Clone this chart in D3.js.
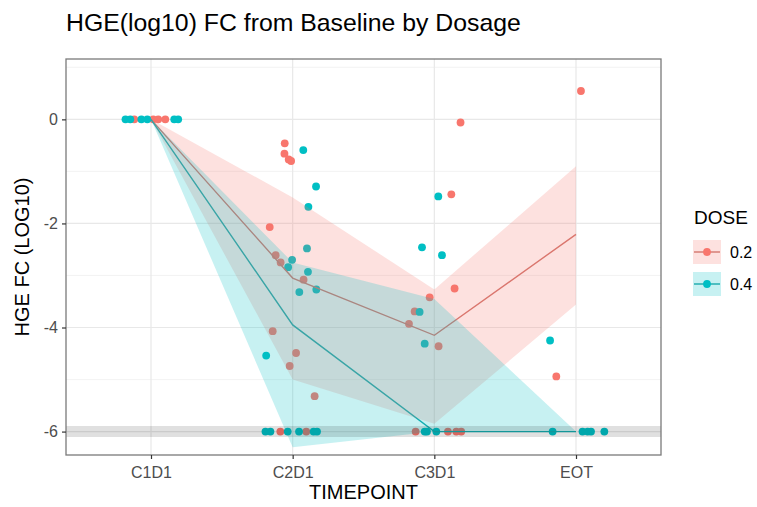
<!DOCTYPE html>
<html><head><meta charset="utf-8">
<script src="https://cdn.jsdelivr.net/npm/d3@7"></script>
<style>
body{margin:0;background:#fff}
svg{display:block}
text{font-family:"Liberation Sans",Arial,Helvetica,sans-serif}
</style>
</head><body>
<svg id="chart" width="757" height="507"></svg>
<script>
// ---------- data ----------
const timepoints = ["C1D1", "C2D1", "C3D1", "EOT"];
const doses = ["0.2", "0.4"];
const yTicks = [0, -2, -4, -6];
const yMinorTicks = [1, -1, -3, -5];
const floorValue = -6;

// summary line per dose
const lineDose02 = [0, -3.05, -4.15, -2.21];
const lineDose04 = [0, -3.95, -6.0, -6.0];
// ribbon bounds per dose
const lowerDose02 = [0, -5.0, -5.85, -3.56];
const upperDose02 = [0, -1.5, -3.27, -0.9];
const lowerDose04 = [0, -6.3, -6.0, -6.0];
const upperDose04 = [0, -2.75, -3.45, -6.0];

// individual observations: [timepoint, value, jitter (fraction of category step)]
const pointsDose02 = [
  ["C1D1", 0, -0.118], ["C1D1", 0, 0.016], ["C1D1", 0, 0.051], ["C1D1", 0, 0.101],
  ["C2D1", -0.46, -0.056], ["C2D1", -0.66, -0.058], ["C2D1", -0.77, -0.028], ["C2D1", -0.80, -0.011],
  ["C2D1", -2.07, -0.162], ["C2D1", -2.61, -0.12], ["C2D1", -2.75, -0.085], ["C2D1", -3.08, 0.077],
  ["C2D1", -4.07, -0.141], ["C2D1", -4.49, 0.024], ["C2D1", -4.74, -0.021], ["C2D1", -5.32, 0.155],
  ["C2D1", -6, -0.087], ["C2D1", -6, 0.096],
  ["C3D1", -0.06, 0.185], ["C3D1", -1.44, 0.12], ["C3D1", -3.25, 0.143], ["C3D1", -3.42, -0.033],
  ["C3D1", -3.69, -0.139], ["C3D1", -3.93, -0.179], ["C3D1", -4.36, 0.03],
  ["C3D1", -6, -0.132], ["C3D1", -6, 0.096], ["C3D1", -6, 0.155], ["C3D1", -6, 0.19],
  ["EOT", 0.545, 0.035], ["EOT", -4.94, -0.139]
];
const pointsDose04 = [
  ["C1D1", 0, -0.18], ["C1D1", 0, -0.146], ["C1D1", 0, -0.068], ["C1D1", 0, -0.026], ["C1D1", 0, 0.164], ["C1D1", 0, 0.192],
  ["C2D1", -0.59, 0.075], ["C2D1", -1.29, 0.165], ["C2D1", -1.68, 0.111], ["C2D1", -2.48, 0.101],
  ["C2D1", -2.70, -0.004], ["C2D1", -2.84, -0.032], ["C2D1", -2.93, 0.108], ["C2D1", -3.32, 0.047],
  ["C2D1", -3.27, 0.167], ["C2D1", -4.54, -0.187],
  ["C2D1", -6, -0.192], ["C2D1", -6, -0.157], ["C2D1", -6, -0.035], ["C2D1", -6, 0.045], ["C2D1", -6, 0.148], ["C2D1", -6, 0.172],
  ["C3D1", -1.48, 0.028], ["C3D1", -2.46, -0.087], ["C3D1", -2.61, 0.054], ["C3D1", -3.70, -0.104], ["C3D1", -4.31, -0.068],
  ["C3D1", -6, -0.068], ["C3D1", -6, -0.052], ["C3D1", -6, 0.014],
  ["EOT", -4.25, -0.183], ["EOT", -6, -0.165], ["EOT", -6, 0.046], ["EOT", -6, 0.082], ["EOT", -6, 0.106], ["EOT", -6, 0.2]
];

const doseColors = ["#F8766D", "#00BFC4"];
const lineColors = ["#d3776f", "#1aa9ad"];

// ---------- layout ----------
const panel = {left: 66, right: 661, top: 59, bottom: 455};
const svg = d3.select("#chart");
svg.append("rect").attr("width", 757).attr("height", 507).attr("fill", "#fff");

const x = d3.scalePoint().domain(timepoints).range([panel.left, panel.right]).padding(0.6);
const y = d3.scaleLinear().domain([-6.45, 1.16]).range([panel.bottom, panel.top]);
const step = x.step();

const series = [
  {dose: doses[0], line: lineDose02, lo: lowerDose02, hi: upperDose02, pts: pointsDose02, color: doseColors[0], lc: lineColors[0]},
  {dose: doses[1], line: lineDose04, lo: lowerDose04, hi: upperDose04, pts: pointsDose04, color: doseColors[1], lc: lineColors[1]}
];

const g = svg.append("g");
svg.append("clipPath").attr("id", "pclip").append("rect")
  .attr("x", panel.left).attr("y", panel.top)
  .attr("width", panel.right - panel.left).attr("height", panel.bottom - panel.top);

const pg = g.append("g").attr("clip-path", "url(#pclip)");
pg.append("rect").attr("x", panel.left).attr("y", panel.top)
  .attr("width", panel.right - panel.left).attr("height", panel.bottom - panel.top).attr("fill", "#fff");

// grid
pg.selectAll(".gminor").data(yMinorTicks).enter().append("line")
  .attr("x1", panel.left).attr("x2", panel.right)
  .attr("y1", d => y(d)).attr("y2", d => y(d))
  .attr("stroke", "#f0f0f0").attr("stroke-width", 0.8);
pg.selectAll(".gmajor").data(yTicks).enter().append("line")
  .attr("x1", panel.left).attr("x2", panel.right)
  .attr("y1", d => y(d)).attr("y2", d => y(d))
  .attr("stroke", "#e8e8e8").attr("stroke-width", 1.2);
pg.selectAll(".gx").data(timepoints).enter().append("line")
  .attr("x1", d => x(d)).attr("x2", d => x(d))
  .attr("y1", panel.top).attr("y2", panel.bottom)
  .attr("stroke", "#e8e8e8").attr("stroke-width", 1.2);

// points
series.forEach(s => {
  pg.append("g").selectAll("circle").data(s.pts).enter().append("circle")
    .attr("cx", d => x(d[0]) + d[2] * step)
    .attr("cy", d => y(d[1]))
    .attr("r", 3.9)
    .attr("fill", s.color);
});

// lines
series.forEach(s => {
  const ln = d3.line().x((d, i) => x(timepoints[i])).y(d => y(d));
  pg.append("path").attr("d", ln(s.line)).attr("fill", "none")
    .attr("stroke", s.lc).attr("stroke-width", 1.4);
});

// ribbons
series.forEach(s => {
  const area = d3.area().x((d, i) => x(timepoints[i]))
    .y0((d, i) => y(s.lo[i])).y1((d, i) => y(s.hi[i]));
  pg.append("path").attr("d", area(s.line)).attr("fill", s.color).attr("fill-opacity", 0.22);
});

// reference band at floor value
pg.append("line").attr("x1", panel.left).attr("x2", panel.right)
  .attr("y1", y(floorValue)).attr("y2", y(floorValue))
  .attr("stroke", "#000").attr("stroke-opacity", 0.12).attr("stroke-width", 11);

// panel border
g.append("rect").attr("x", panel.left).attr("y", panel.top)
  .attr("width", panel.right - panel.left).attr("height", panel.bottom - panel.top)
  .attr("fill", "none").attr("stroke", "#7a7a7a").attr("stroke-width", 1.3);

// axes
const yAxis = g.append("g").attr("transform", `translate(${panel.left},0)`)
  .call(d3.axisLeft(y).tickValues(yTicks).tickSize(4).tickPadding(4).tickFormat(d3.format("d")));
const xAxis = g.append("g").attr("transform", `translate(0,${panel.bottom})`)
  .call(d3.axisBottom(x).tickSize(4).tickPadding(4));
[yAxis, xAxis].forEach(a => {
  a.select(".domain").remove();
  a.selectAll(".tick line").attr("stroke", "#333").attr("stroke-width", 1.2);
  a.selectAll(".tick text").attr("fill", "#4d4d4d").style("font-size", "16px")
    .style("font-family", '"Liberation Sans", Arial, sans-serif');
});
yAxis.selectAll(".tick text").text(d => d === 0 ? "0" : "-" + Math.abs(d));
xAxis.selectAll(".tick text").attr("dy", "0.95em");

// titles
svg.append("text").attr("x", panel.left).attr("y", 31)
  .style("font-size", "24.8px").attr("fill", "#000")
  .text("HGE(log10) FC from Baseline by Dosage");
svg.append("text").attr("x", (panel.left + panel.right) / 2).attr("y", 499)
  .attr("text-anchor", "middle").style("font-size", "20px").attr("fill", "#000")
  .text("TIMEPOINT");
svg.append("text").attr("transform", `translate(29,${(panel.top + panel.bottom) / 2}) rotate(-90)`)
  .attr("text-anchor", "middle").style("font-size", "20px").attr("fill", "#000")
  .text("HGE FC (LOG10)");

// legend
const lg = svg.append("g");
lg.append("text").attr("x", 694).attr("y", 224).style("font-size", "19px").attr("fill", "#000").text("DOSE");
series.forEach((s, i) => {
  const cy = 252 + i * 32;
  lg.append("rect").attr("x", 693).attr("y", cy - 12).attr("width", 28).attr("height", 24)
    .attr("fill", s.color).attr("fill-opacity", 0.22);
  lg.append("line").attr("x1", 694).attr("x2", 720).attr("y1", cy).attr("y2", cy)
    .attr("stroke", s.lc).attr("stroke-width", 1.4);
  lg.append("circle").attr("cx", 707).attr("cy", cy).attr("r", 3.9).attr("fill", s.color);
  lg.append("text").attr("x", 730).attr("y", cy).attr("dy", "0.36em")
    .style("font-size", "16px").attr("fill", "#000").text(s.dose);
});
</script>
</body></html>
